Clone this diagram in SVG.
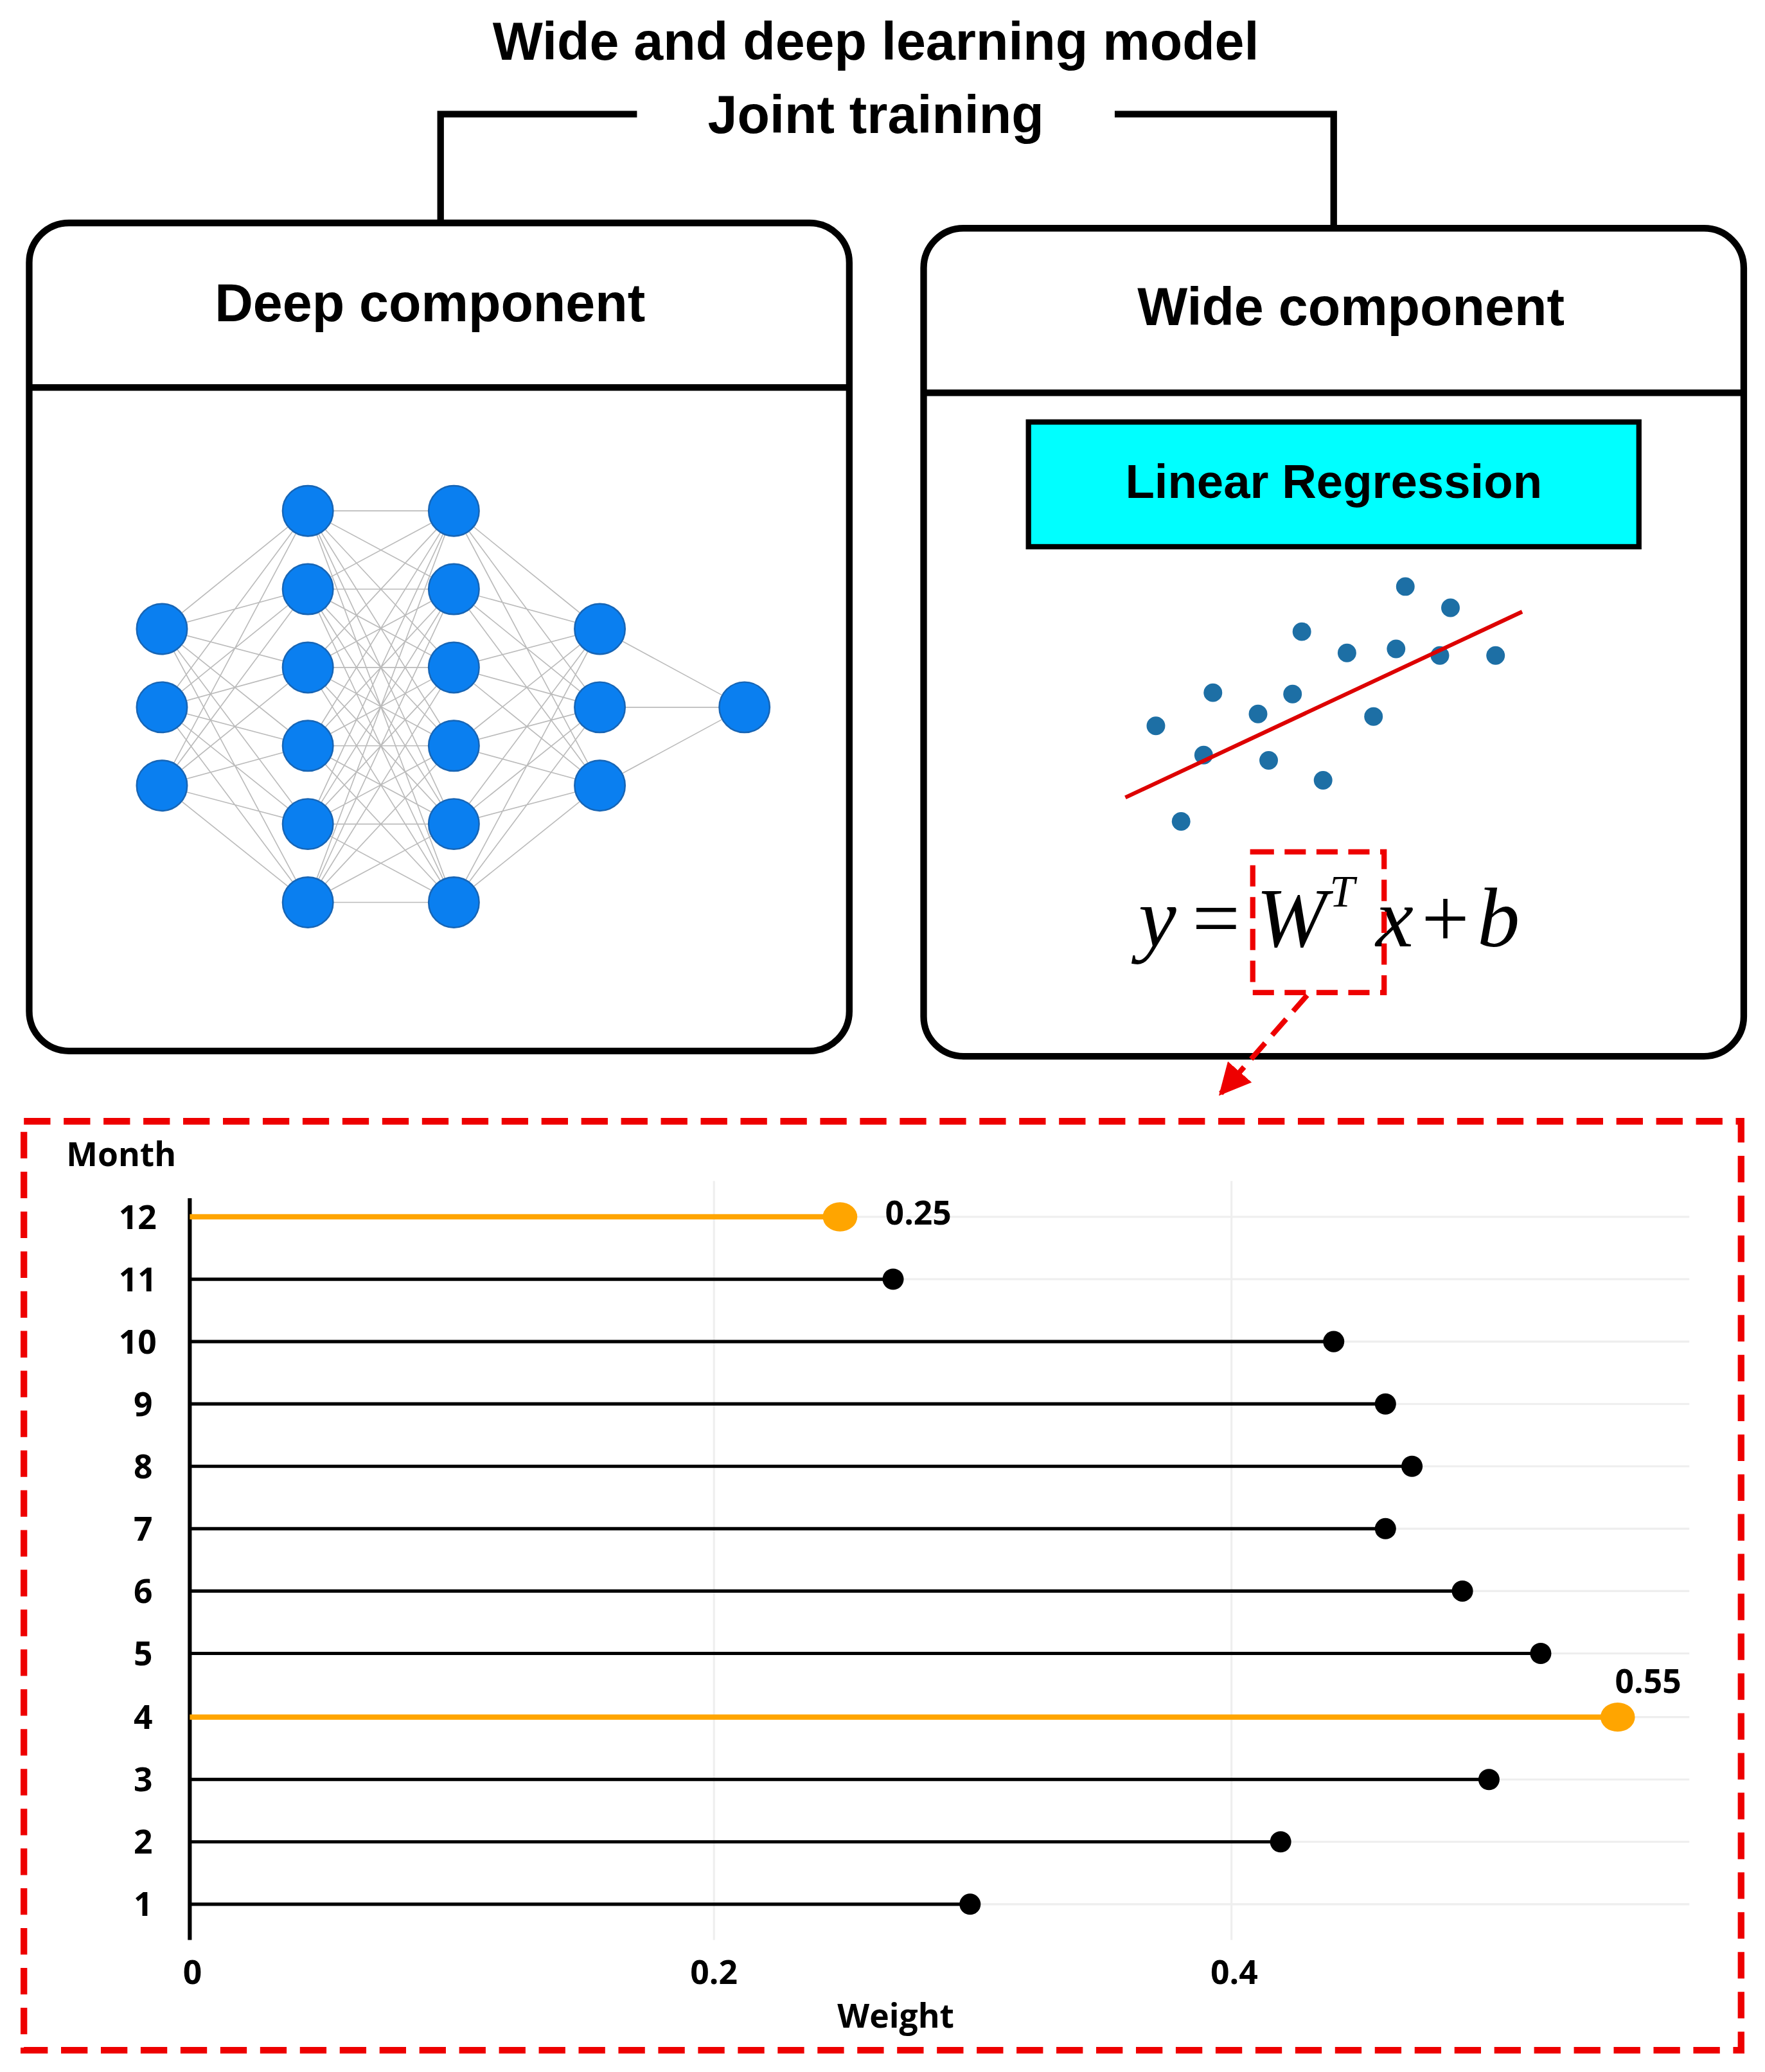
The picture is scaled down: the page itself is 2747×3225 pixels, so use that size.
<svg xmlns="http://www.w3.org/2000/svg" width="2747" height="3225" viewBox="0 0 2747 3225">
<style>
.t{font-family:"Liberation Sans",Arial,sans-serif;font-weight:bold;fill:#000}
.box{fill:#fff;stroke:#000;stroke-width:5}
.nn{fill:#0a7ff0;stroke:#1765b5;stroke-width:1.2}
.e{stroke:#bbb;stroke-width:0.8}
.dot{fill:#1d6fa5}
.ax{font-family:"Open Sans","Liberation Sans",sans-serif;font-weight:bold;font-size:25px;fill:#000}
.grid{stroke:#eee;stroke-width:1.5}
.bar{stroke:#000;stroke-width:2.5}
.bo{stroke:#ffa500;stroke-width:4}
</style>
<defs>
<marker id="ah" viewBox="0 0 10 10" refX="9" refY="5" markerWidth="6" markerHeight="6" orient="auto" markerUnits="strokeWidth"><path d="M0,0 L10,5 L0,10 z" fill="#e00"/></marker>
</defs>
<rect width="2747" height="3225" fill="#fff"/>
<g transform="scale(2.0654)">
<g id="title"><text class="t" x="660" y="45" font-size="40" text-anchor="middle">Wide and deep learning model</text>
<text class="t" x="660" y="100" font-size="40" text-anchor="middle">Joint training</text></g>
<g id="deep">
<rect class="box" x="22" y="168" width="618" height="624" rx="30"/>
<line x1="22" y1="292" x2="640" y2="292" stroke="#000" stroke-width="5"/>
<text class="t" x="324" y="242" font-size="40" text-anchor="middle">Deep component</text>
<g>
<path class="e" d="M122,474L232,385M122,474L232,444M122,474L232,503M122,474L232,562M122,474L232,621M122,474L232,680M122,533L232,385M122,533L232,444M122,533L232,503M122,533L232,562M122,533L232,621M122,533L232,680M122,592L232,385M122,592L232,444M122,592L232,503M122,592L232,562M122,592L232,621M122,592L232,680"/>
<path class="e" d="M232,385L342,385M232,385L342,444M232,385L342,503M232,385L342,562M232,385L342,621M232,385L342,680M232,444L342,385M232,444L342,444M232,444L342,503M232,444L342,562M232,444L342,621M232,444L342,680M232,503L342,385M232,503L342,444M232,503L342,503M232,503L342,562M232,503L342,621M232,503L342,680M232,562L342,385M232,562L342,444M232,562L342,503M232,562L342,562M232,562L342,621M232,562L342,680M232,621L342,385M232,621L342,444M232,621L342,503M232,621L342,562M232,621L342,621M232,621L342,680M232,680L342,385M232,680L342,444M232,680L342,503M232,680L342,562M232,680L342,621M232,680L342,680"/>
<path class="e" d="M452,474L342,385M452,474L342,444M452,474L342,503M452,474L342,562M452,474L342,621M452,474L342,680M452,533L342,385M452,533L342,444M452,533L342,503M452,533L342,562M452,533L342,621M452,533L342,680M452,592L342,385M452,592L342,444M452,592L342,503M452,592L342,562M452,592L342,621M452,592L342,680M452,474L561,533M452,533L561,533M452,592L561,533"/>
<circle class="nn" cx="122" cy="474" r="19"/><circle class="nn" cx="122" cy="533" r="19"/><circle class="nn" cx="122" cy="592" r="19"/>
<circle class="nn" cx="232" cy="385" r="19"/><circle class="nn" cx="232" cy="444" r="19"/><circle class="nn" cx="232" cy="503" r="19"/><circle class="nn" cx="232" cy="562" r="19"/><circle class="nn" cx="232" cy="621" r="19"/><circle class="nn" cx="232" cy="680" r="19"/>
<circle class="nn" cx="342" cy="385" r="19"/><circle class="nn" cx="342" cy="444" r="19"/><circle class="nn" cx="342" cy="503" r="19"/><circle class="nn" cx="342" cy="562" r="19"/><circle class="nn" cx="342" cy="621" r="19"/><circle class="nn" cx="342" cy="680" r="19"/>
<circle class="nn" cx="452" cy="474" r="19"/><circle class="nn" cx="452" cy="533" r="19"/><circle class="nn" cx="452" cy="592" r="19"/>
<circle class="nn" cx="561" cy="533" r="19"/>
</g>
</g>
<g id="wide">
<rect class="box" x="696" y="172" width="618" height="624" rx="30"/>
<line x1="696" y1="296" x2="1314" y2="296" stroke="#000" stroke-width="5"/>
<text class="t" x="1018" y="245" font-size="40" text-anchor="middle">Wide component</text>
<rect x="775" y="318" width="460" height="94" fill="#00ffff" stroke="#000" stroke-width="4"/>
<text class="t" x="1005" y="375" font-size="36" text-anchor="middle">Linear Regression</text>
<g>
<circle class="dot" cx="1059" cy="442" r="7"/><circle class="dot" cx="1093" cy="458" r="7"/><circle class="dot" cx="981" cy="476" r="7"/><circle class="dot" cx="1015" cy="492" r="7"/><circle class="dot" cx="1052" cy="489" r="7"/><circle class="dot" cx="1085" cy="494" r="7"/><circle class="dot" cx="1127" cy="494" r="7"/><circle class="dot" cx="914" cy="522" r="7"/><circle class="dot" cx="974" cy="523" r="7"/><circle class="dot" cx="948" cy="538" r="7"/><circle class="dot" cx="1035" cy="540" r="7"/><circle class="dot" cx="871" cy="547" r="7"/><circle class="dot" cx="907" cy="569" r="7"/><circle class="dot" cx="956" cy="573" r="7"/><circle class="dot" cx="997" cy="588" r="7"/><circle class="dot" cx="890" cy="619" r="7"/>
<line x1="848" y1="601" x2="1147" y2="461" stroke="#d00" stroke-width="3"/>
</g>
<text x="858" y="713" font-family="Liberation Serif,serif" font-style="italic" font-size="64"><tspan>y</tspan><tspan font-style="normal" dx="12">=</tspan><tspan dx="12">W</tspan><tspan font-size="34" dy="-30" dx="2">T</tspan><tspan dy="30" dx="16">x</tspan><tspan font-style="normal" dx="6">+</tspan><tspan dx="6">b</tspan></text>
<rect x="944" y="642" width="99" height="106" fill="none" stroke="#e00" stroke-width="4" stroke-dasharray="16 8"/>
</g>
<g id="connectors" fill="none">
<path d="M480,86 H332 V168" stroke="#000" stroke-width="5"/>
<path d="M840,86 H1005 V172" stroke="#000" stroke-width="5"/>
<path d="M985,750 L920,824" stroke="#e00" stroke-width="4" stroke-dasharray="16 8" marker-end="url(#ah)"/>
</g>
<g id="chart">
<rect x="18" y="845" width="1294" height="700" fill="none" stroke="#e00" stroke-width="5" stroke-dasharray="20 10"/>
<g class="grid">
<line x1="538" y1="890" x2="538" y2="1462"/><line x1="928" y1="890" x2="928" y2="1462"/>
<line x1="143" y1="917" x2="1273" y2="917"/><line x1="143" y1="964" x2="1273" y2="964"/><line x1="143" y1="1011" x2="1273" y2="1011"/><line x1="143" y1="1058" x2="1273" y2="1058"/><line x1="143" y1="1105" x2="1273" y2="1105"/><line x1="143" y1="1152" x2="1273" y2="1152"/><line x1="143" y1="1199" x2="1273" y2="1199"/><line x1="143" y1="1246" x2="1273" y2="1246"/><line x1="143" y1="1294" x2="1273" y2="1294"/><line x1="143" y1="1341" x2="1273" y2="1341"/><line x1="143" y1="1388" x2="1273" y2="1388"/><line x1="143" y1="1435" x2="1273" y2="1435"/>
</g>
<line x1="143" y1="903" x2="143" y2="1462" stroke="#000" stroke-width="3"/>
<line class="bo" x1="143" y1="917" x2="633" y2="917"/><ellipse cx="633" cy="917" rx="13" ry="11" fill="#ffa500"/>
<line class="bar" x1="143" y1="964" x2="673" y2="964"/><circle cx="673" cy="964" r="8"/>
<line class="bar" x1="143" y1="1011" x2="1005" y2="1011"/><circle cx="1005" cy="1011" r="8"/>
<line class="bar" x1="143" y1="1058" x2="1044" y2="1058"/><circle cx="1044" cy="1058" r="8"/>
<line class="bar" x1="143" y1="1105" x2="1064" y2="1105"/><circle cx="1064" cy="1105" r="8"/>
<line class="bar" x1="143" y1="1152" x2="1044" y2="1152"/><circle cx="1044" cy="1152" r="8"/>
<line class="bar" x1="143" y1="1199" x2="1102" y2="1199"/><circle cx="1102" cy="1199" r="8"/>
<line class="bar" x1="143" y1="1246" x2="1161" y2="1246"/><circle cx="1161" cy="1246" r="8"/>
<line class="bo" x1="143" y1="1294" x2="1219" y2="1294"/><ellipse cx="1219" cy="1294" rx="13" ry="11" fill="#ffa500"/>
<line class="bar" x1="143" y1="1341" x2="1122" y2="1341"/><circle cx="1122" cy="1341" r="8"/>
<line class="bar" x1="143" y1="1388" x2="965" y2="1388"/><circle cx="965" cy="1388" r="8"/>
<line class="bar" x1="143" y1="1435" x2="731" y2="1435"/><circle cx="731" cy="1435" r="8"/>
<g class="ax" text-anchor="end">
<text x="118" y="926">12</text><text x="118" y="973">11</text><text x="118" y="1020">10</text><text x="115" y="1067">9</text><text x="115" y="1114">8</text><text x="115" y="1161">7</text><text x="115" y="1208">6</text><text x="115" y="1255">5</text><text x="115" y="1303">4</text><text x="115" y="1350">3</text><text x="115" y="1397">2</text><text x="115" y="1444">1</text>
</g>
<text class="ax" x="50" y="879">Month</text>
<g class="ax" text-anchor="middle"><text x="145" y="1495">0</text><text x="538" y="1495">0.2</text><text x="930" y="1495">0.4</text><text x="675" y="1528">Weight</text></g>
<text class="ax" x="667" y="923" font-size="21">0.25</text>
<text class="ax" x="1217" y="1276" font-size="21">0.55</text>
</g>
</g>
</svg>
